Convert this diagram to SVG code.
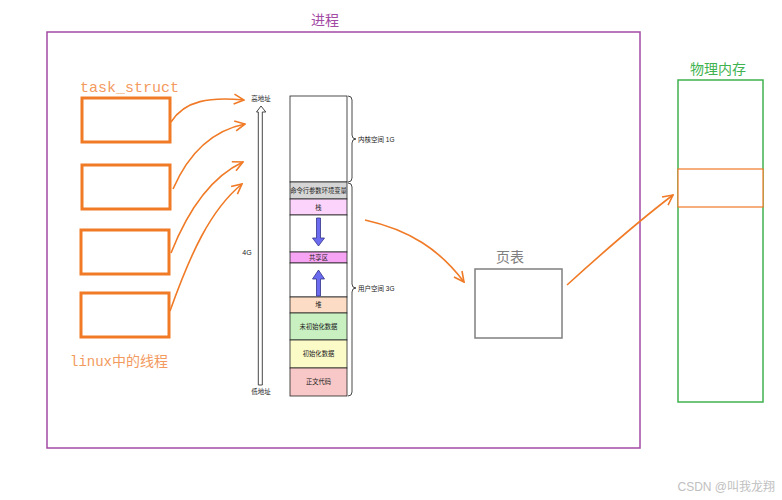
<svg xmlns="http://www.w3.org/2000/svg" width="782" height="500" viewBox="0 0 782 500">
<defs>
<style>
.cn{font-family:"Liberation Sans","Noto Sans CJK SC",sans-serif;}
.mono{font-family:"Liberation Mono","Noto Sans CJK SC",monospace;}
.ob{fill:#fff;stroke:#f07a26;stroke-width:3;}
.con{fill:none;stroke:#f07a26;stroke-width:1.6;}
.seg{stroke:#222;stroke-width:0.8;}
.lbl{font-size:6.3px;fill:#222;text-anchor:middle;}
.brace{fill:none;stroke:#333;stroke-width:0.9;}
</style>
<marker id="oa" viewBox="0 0 12 12" refX="11" refY="6" markerWidth="12" markerHeight="12" markerUnits="userSpaceOnUse" orient="auto">
<path d="M1,1 L11,6 L1,11" fill="none" stroke="#f07a26" stroke-width="1.6"/>
</marker>
</defs>
<rect width="782" height="500" fill="#fff"/>

<g id="process">
<rect x="47" y="32" width="593" height="416" fill="none" stroke="#a34aa4" stroke-width="1.5"/>
<text x="325" y="25" class="cn" font-size="14" fill="#a34aa4" text-anchor="middle">进程</text>
</g>

<g id="threads">
<text x="80" y="92" class="mono" font-size="15" fill="#f39a5e">task_struct</text>
<rect id="t1" class="ob" x="82" y="98" width="88" height="44"/>
<rect id="t2" class="ob" x="82" y="165" width="88" height="44"/>
<rect id="t3" class="ob" x="81" y="230" width="88" height="44"/>
<rect id="t4" class="ob" x="81" y="293" width="88" height="44"/>
<text x="70" y="366" class="mono" font-size="14" fill="#f39a5e">linux中的线程</text>
</g>

<g id="address-axis">
<path d="M258.3,112 L256.5,112 L261,106 L265.8,112 L262.3,112 L262.3,385 L258.3,385 Z" fill="#fff" stroke="#333" stroke-width="0.9"/>
<text x="261" y="101" class="cn" font-size="6.5" fill="#222" text-anchor="middle">高地址</text>
<text x="247" y="255" class="cn" font-size="7" fill="#222" text-anchor="middle">4G</text>
<text x="261" y="394" class="cn" font-size="6.5" fill="#222" text-anchor="middle">低地址</text>
</g>

<g id="memory-layout">
<rect class="seg" x="290" y="96" width="57" height="86" fill="#fff"/>
<rect class="seg" x="290" y="182" width="57" height="17" fill="#d6d6d6"/>
<text class="cn lbl" x="318.5" y="193">命令行参数环境变量</text>
<rect class="seg" x="290" y="199" width="57" height="16" fill="#fbd3fb"/>
<text class="cn lbl" x="318.5" y="210">栈</text>
<rect class="seg" x="290" y="215" width="57" height="37" fill="#fff"/>
<rect class="seg" x="290" y="252" width="57" height="11" fill="#f8a4f4"/>
<text class="cn lbl" x="318.5" y="260">共享区</text>
<rect class="seg" x="290" y="263" width="57" height="34" fill="#fff"/>
<rect class="seg" x="290" y="297" width="57" height="16" fill="#fcdcc4"/>
<text class="cn lbl" x="318.5" y="307">堆</text>
<rect class="seg" x="290" y="313" width="57" height="27" fill="#c8f0c0"/>
<text class="cn lbl" x="318.5" y="329">未初始化数据</text>
<rect class="seg" x="290" y="340" width="57" height="28" fill="#fbfbc8"/>
<text class="cn lbl" x="318.5" y="356">初始化数据</text>
<rect class="seg" x="290" y="368" width="57" height="28" fill="#f8c8c8"/>
<text class="cn lbl" x="318.5" y="384">正文代码</text>
<path d="M316.5,218 L320.5,218 L320.5,238 L324.5,238 L318.5,246 L312.5,238 L316.5,238 Z" fill="#6b6bf0" stroke="#33338a" stroke-width="0.8"/>
<path d="M316.5,296 L320.5,296 L320.5,279 L324.5,279 L318.5,270 L312.5,279 L316.5,279 Z" fill="#6b6bf0" stroke="#33338a" stroke-width="0.8"/>
<path class="brace" d="M348,96 Q352,96 352,100 L352,135 Q352,139 356,139 Q352,139 352,143 L352,178 Q352,182 348,182"/>
<text x="358" y="141.5" class="cn" font-size="6.5" fill="#222">内核空间 1G</text>
<path class="brace" d="M348,183 Q352,183 352,187 L352,284 Q352,288 356,288 Q352,288 352,292 L352,392 Q352,396 348,396"/>
<text x="358" y="290.5" class="cn" font-size="6.5" fill="#222">用户空间 3G</text>
</g>

<g id="page-table">
<rect x="475" y="269" width="87" height="69" fill="#fff" stroke="#7f7f7f" stroke-width="1.5"/>
<text x="510" y="262" class="cn" font-size="14" fill="#7f7f7f" text-anchor="middle">页表</text>
</g>

<g id="physical-memory">
<rect x="678" y="80" width="85" height="322" fill="#fff" stroke="#3fb34f" stroke-width="1.5"/>
<rect x="678" y="169" width="85" height="38" fill="#fff" stroke="#f07a26" stroke-width="1.2"/>
<text x="718" y="74" class="cn" font-size="14" fill="#3fb34f" text-anchor="middle">物理内存</text>
</g>

<g id="connectors">
<path class="con" marker-end="url(#oa)" d="M171,122 C185,100 210,97 244,100"/>
<path class="con" marker-end="url(#oa)" d="M173,189 C190,150 215,130 245,124"/>
<path class="con" marker-end="url(#oa)" d="M171,253 C190,205 215,175 243,162"/>
<path class="con" marker-end="url(#oa)" d="M170,311 C190,255 210,210 242,184"/>
<path class="con" marker-end="url(#oa)" d="M365,220 C410,230 440,250 464,282"/>
<path class="con" marker-end="url(#oa)" d="M567,285 C600,255 640,220 673,195"/>
</g>

<text x="775" y="491" class="cn" font-size="12" fill="#c0c0c0" text-anchor="end">CSDN @叫我龙翔</text>
</svg>
